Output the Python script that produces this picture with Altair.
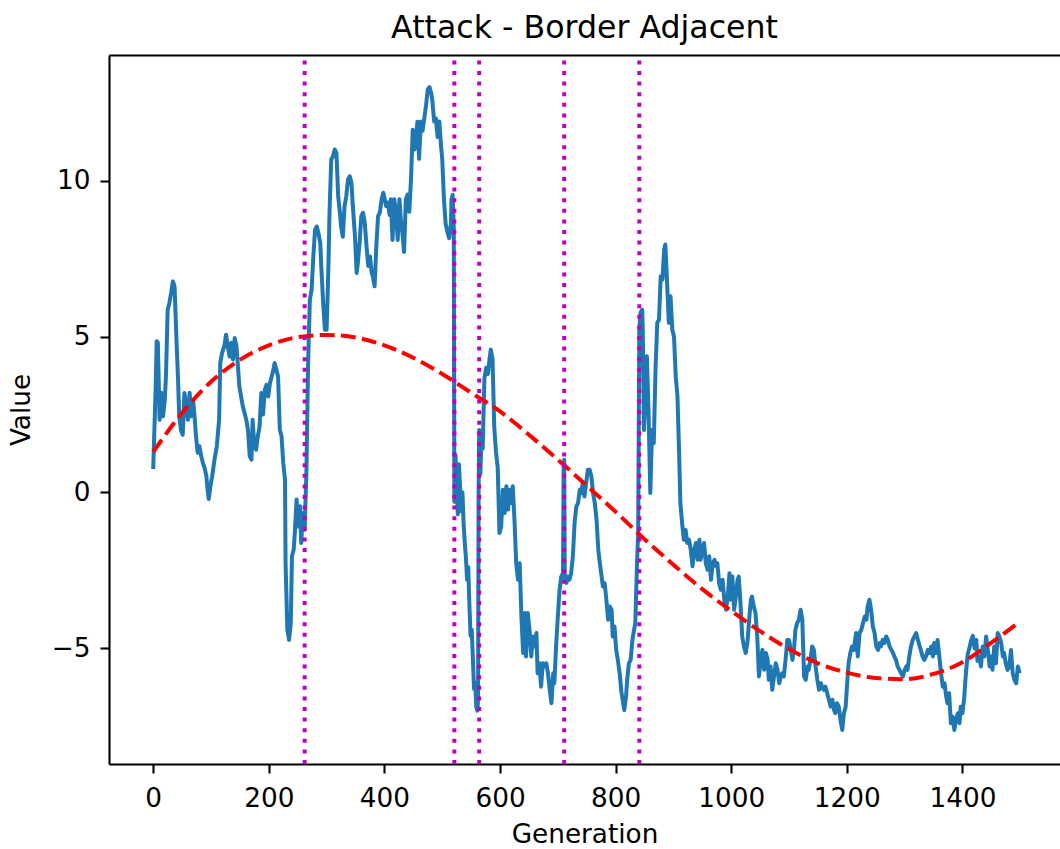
import altair as alt
import pandas as pd

# Blue series: trait value per generation, split at the marked events
phase_a = [(0,0.75),(2,2.0),(4,3.2),(6,4.85),(8,4.8),(11,2.33),(14,3.2),(17,2.44),(20,2.97),(22,3.72),
           (25,5.86),(28,6.08),(31,6.4),(34,6.77),(37,6.6),(40,5.0),(43,3.6),(45,2.44),(48,2.0),(51,1.85),
           (54,3.19),(57,2.8),(60,2.33),(63,3.2),(66,2.44),(69,2.97),(72,2.33),(74,1.8),(77,1.27),(80,1.48),
           (83,1.16),(86,0.95),(89,0.78),(92,0.52),(94,0.09),(96,-0.21),(99,0.2),(102,0.52),(106,1.05),
           (110,1.48),(114,2.33),(116,4.15),(119,4.47),(123,4.69),(126,5.06),(129,4.69),(132,4.36),(135,4.8),
           (138,4.26),(141,4.95),(144,4.69),(147,3.94),(149,3.4),(152,3.08),(155,2.76),(158,2.55),(161,2.33),
           (164,2.0),(167,1.16),(170,1.05),(172,2.33),(175,1.48),(178,1.37),(181,1.8),(184,2.12),(187,3.19),
           (190,2.5),(193,3.29),(196,3.45),(199,3.08),(202,3.51),(205,3.72),(208,3.94),(210,4.15),(213,3.94),
           (216,3.72),(219,2.01),(222,1.8),(225,0.94),(228,0.41),(229,-2.27),(232,-4.4),(235,-4.73),(238,-4.19),
           (240,-2.05),(243,-1.84),(245,-1.3),(248,-0.23),(251,-1.09),(254,-0.44),(256,-1.62),(259,-0.66)]
phase_b = [(262,-1.2),(265,0.62),(268,4.15),(271,6.18),(274,6.5),(277,7.57),(280,8.43),(283,8.53),(286,8.3),
           (289,8.0),(291,7.15),(294,6.08),(297,5.22),(300,5.22),(303,7.15),(305,8.97),(308,10.68),(311,10.78),
           (314,11.0),(317,10.89),(320,9.5),(323,8.97),(325,8.53),(328,8.2),(331,9.18),(334,9.5),(337,10.04),
           (340,10.14),(343,9.93),(345,9.29),(349,8.22),(352,7.04),(354,7.36),(357,8.0),(360,8.86),(363,8.97),
           (366,8.65),(369,7.9),(372,7.26),(375,7.57),(378,7.04),(380,6.93),(383,6.61),(386,7.9),(389,8.86),
           (392,8.97),(395,9.39),(398,9.61),(400,9.45),(403,9.18),(406,9.3),(409,8.9),(411,9.4),(414,8.1),
           (417,9.4),(420,9.0),(423,8.1),(426,9.4),(429,8.6),(431,8.35),(434,7.71),(437,9.4),(440,9.55),
           (443,9.0),(446,10.06),(449,11.63),(452,11.0),(454,11.2),(457,11.89),(460,10.7),(463,11.9),(466,11.6),
           (469,12.0),(472,12.41),(475,12.93),(478,13.0),(481,12.8),(483,12.55),(486,11.9),(489,12.0),(492,11.4),
           (495,11.9),(498,11.1),(500,10.7),(503,9.4),(506,8.6),(509,8.35),(512,8.15),(515,8.6),(516,9.4),
           (518,9.55),(520,8.5)]
phase_c = [(521,-0.3),(522,0.6),(523,1.2),(525,0.2),(527,-0.7),(529,0.9),(531,0.1),(533,-0.6),(535,0.0),
           (537,-1.0),(539,-1.6),(541,-2.1),(543,-2.8),(545,-2.4),(547,-3.6),(549,-4.6),(551,-4.4),(553,-5.3),
           (555,-6.3),(557,-6.1),(559,-6.9),(561,-7.0),(562,-6.6)]
phase_d = [(563,0.2),(564,2.0),(566,0.6),(568,1.8),(570,1.4),(573,3.66),(576,4.0),(579,3.8),(582,4.3),
           (584,4.58),(587,4.3),(590,2.1),(593,1.3),(596,0.8),(599,-1.3),(602,-1.1),(605,0.09),(608,-0.66),
           (611,0.2),(614,-0.55),(616,0.09),(619,-0.34),(622,0.2),(625,-0.88),(628,-2.27),(631,-2.8),(634,-2.27),
           (637,-3.98),(640,-5.15),(643,-3.87),(645,-5.26),(648,-3.87),(651,-4.4),(654,-5.26),(657,-4.62),
           (660,-4.94),(663,-4.51),(665,-5.8),(668,-5.48),(671,-6.23),(674,-5.48),(677,-5.58),(680,-5.48),
           (683,-5.8),(686,-6.33),(689,-6.76),(692,-5.8),(694,-6.12),(697,-4.94),(700,-3.98),(703,-3.12),
           (706,-2.7),(709,-2.59)]
phase_e = [(710,0.8),(711,1.05),(712,-2.7),(715,-2.9),(717,-2.7),(720,-2.8),(723,-2.59),(726,-2.05),(729,-0.98),
           (732,-0.45),(735,-0.34),(738,0.09),(741,-0.02),(743,0.3),(746,-0.13),(749,0.3),(752,0.73),(755,0.73),
           (758,0.52),(761,-0.02),(764,-0.34),(767,-0.88),(770,-1.84),(772,-2.16),(775,-2.59),(778,-3.02),
           (781,-2.91),(784,-3.44),(787,-4.08),(790,-3.66),(793,-3.76),(795,-4.62),(798,-4.3),(801,-5.05),
           (804,-5.4),(807,-5.8),(810,-6.4),(813,-6.75),(815,-6.98),(818,-6.55),(820,-6.0),(823,-5.48),
           (826,-5.37),(829,-4.73),(832,-4.4),(834,-4.19),(837,-2.27),(839,-1.3)]
phase_f = [(840,2.0),(841,5.22),(843,5.76),(846,5.86),(847,5.22),(849,2.0),(851,2.87),(854,4.37),(857,2.55),
           (860,-0.02),(863,2.0),(866,1.58),(869,3.94),(872,5.44),(875,5.54),(878,6.93),(881,6.83),(884,7.79),
           (886,7.95),(889,6.72),(892,5.44),(895,6.29),(898,5.22),(901,5.0),(904,3.72),(907,3.08),(910,1.16),
           (912,-0.34),(915,-0.98),(918,-1.52),(921,-1.2),(924,-1.62),(927,-1.52),(930,-1.84),(933,-2.37),
           (936,-1.84),(939,-1.62),(942,-2.16),(945,-1.52),(947,-2.16),(950,-1.84),(953,-1.62),(956,-2.27),
           (959,-2.48),(962,-2.05),(965,-2.8),(968,-2.27),(971,-2.16),(974,-2.37),(976,-2.27),(979,-2.91),
           (982,-3.12),(985,-2.8),(988,-3.44),(991,-3.76),(994,-3.34),(997,-2.59),(999,-3.44),(1002,-2.7),
           (1005,-3.76),(1008,-3.34),(1011,-2.8),(1013,-2.7),(1016,-3.55),(1019,-4.62),(1022,-4.94),(1025,-5.15),
           (1028,-4.83),(1031,-4.08),(1034,-3.44),(1036,-3.34),(1039,-3.66),(1042,-3.87),(1045,-4.62),(1048,-5.9),
           (1051,-5.37),(1054,-5.05),(1057,-5.69),(1060,-5.15),(1063,-5.37),(1065,-6.01),(1068,-5.58),(1071,-6.33),
           (1074,-5.9),(1077,-5.48),(1080,-5.69),(1083,-6.12),(1086,-5.9),(1088,-5.8),(1091,-5.9),(1094,-5.37),
           (1097,-4.73),(1100,-4.73),(1103,-5.05),(1106,-5.37),(1109,-4.94),(1111,-4.41),(1114,-4.19),(1117,-4.08),
           (1120,-3.76),(1123,-4.08),(1126,-5.9),(1129,-6.01),(1132,-5.58),(1134,-5.69),(1137,-5.37),(1140,-4.94),
           (1143,-5.05),(1146,-5.58),(1149,-6.01),(1152,-6.33),(1155,-6.12),(1157,-6.23),(1160,-6.33),(1163,-6.23),
           (1166,-6.44),(1169,-6.65),(1172,-6.87),(1175,-6.65),(1178,-6.98),(1180,-7.08),(1183,-6.76),(1186,-6.87),
           (1189,-7.29),(1192,-7.62),(1195,-7.08),(1198,-6.87),(1201,-6.01),(1203,-5.48),(1206,-5.15),(1209,-4.94),
           (1212,-5.05),(1216,-4.51),(1219,-5.26),(1222,-4.51),(1225,-4.41),(1228,-4.19),(1231,-3.98),(1234,-4.08),
           (1236,-3.66),(1239,-3.44),(1242,-3.76),(1245,-4.3),(1248,-4.51),(1251,-4.94),(1254,-5.05),(1257,-4.83),
           (1259,-4.94),(1262,-4.73),(1265,-4.83),(1268,-4.62),(1271,-4.73),(1274,-4.94),(1277,-5.05),(1280,-5.15),
           (1282,-5.26),(1285,-5.37),(1288,-5.58),(1291,-5.69),(1294,-5.8),(1297,-5.9),(1300,-5.69),(1303,-5.58),
           (1305,-5.69),(1308,-5.26),(1311,-4.94),(1314,-4.73),(1317,-4.62),(1320,-4.51),(1323,-4.73),(1326,-4.94),
           (1328,-5.05),(1331,-5.26),(1334,-5.37),(1337,-5.26),(1340,-5.05),(1343,-5.15),(1346,-4.94),(1349,-5.26),
           (1351,-4.83),(1354,-5.15),(1357,-4.73),(1360,-5.26),(1363,-5.8),(1366,-6.23),(1369,-6.12),(1372,-6.55),
           (1374,-6.76),(1377,-6.44),(1380,-7.4),(1383,-7.19),(1386,-7.62),(1389,-7.29),(1392,-7.08),(1395,-7.4),
           (1397,-6.87),(1400,-7.08),(1403,-6.6),(1406,-5.8),(1409,-5.2),(1412,-5.0),(1415,-4.75),(1418,-4.6),
           (1421,-5.0),(1424,-4.73),(1426,-5.4),(1429,-5.26),(1432,-5.58),(1435,-4.94),(1438,-5.26),(1441,-4.62),
           (1444,-5.05),(1447,-5.58),(1449,-5.26),(1452,-5.69),(1455,-4.94),(1458,-5.48),(1461,-4.51),(1464,-4.62),
           (1467,-4.83),(1470,-5.26),(1472,-5.15),(1475,-5.48),(1478,-5.69),(1481,-5.58),(1484,-5.05),(1487,-5.8),
           (1490,-6.01),(1493,-6.12),(1496,-5.58),(1499,-5.8)]

# Red dashed trend
trend_gen = [0, 50, 100, 150, 200, 250, 300, 350, 400, 450, 500, 550, 600, 650, 700, 750,
             800, 850, 900, 950, 1000, 1050, 1100, 1150, 1200, 1250, 1300, 1350, 1400, 1450, 1499]
trend_val = [1.3, 2.55, 3.55, 4.25, 4.72, 4.98, 5.05, 4.97, 4.72, 4.32, 3.8, 3.2, 2.6, 1.85, 1.05, 0.22,
             -0.62, -1.5, -2.32, -3.1, -3.8, -4.45, -5.02, -5.48, -5.78, -5.95, -5.99, -5.82, -5.45, -4.82, -4.15]

# Generations marked with dotted vertical lines
event_gen = [262, 521, 564, 711, 841]

x_ticks = [0, 200, 400, 600, 800, 1000, 1200, 1400]
y_ticks = [-5, 0, 5, 10]

series = phase_a + phase_b + phase_c + phase_d + phase_e + phase_f
blue_df = pd.DataFrame(series, columns=["gen", "value"])
trend_df = pd.DataFrame({"gen": trend_gen, "value": trend_val})
event_df = pd.DataFrame({"gen": event_gen})

W, H = 951, 709
FONT = "DejaVu Sans"
xs = alt.Scale(domain=[-76.5, 1568.8], nice=False, zero=False)
ys = alt.Scale(domain=[-8.71, 14.03], nice=False, zero=False)

minus_expr = "replace(datum.label, '-', '\u2212')"

y_axis = alt.Axis(values=y_ticks, format="d", title="Value", labelExpr=minus_expr, labelFlush=False,
                  labelOverlap=False, tickSize=9, labelPadding=10, titlePadding=16)

line = alt.Chart(blue_df).mark_line(color="#1f77b4", strokeWidth=4, strokeJoin="round").encode(
    x=alt.X("gen:Q", scale=xs, axis=alt.Axis(
        values=x_ticks, format="d", title="Generation", labelFlush=False, labelOverlap=False,
        tickSize=9, labelPadding=12, titlePadding=10)),
    y=alt.Y("value:Q", scale=ys, axis=y_axis),
)

trend = alt.Chart(trend_df).mark_line(
    color="#ff0000", strokeWidth=4, strokeDash=[14.8, 6.4], interpolate="monotone"
).encode(
    x=alt.X("gen:Q", scale=xs, axis=alt.Axis(orient="top", labels=False, ticks=False, title="")),
    y=alt.Y("value:Q", scale=ys, axis=y_axis),
)

events = alt.Chart(event_df).mark_rule(color="#bf00bf", strokeWidth=4, strokeDash=[4, 6.6]).encode(
    x=alt.X("gen:Q", scale=xs, axis=None),
    y=alt.value(H),
    y2=alt.value(0),
)

chart = alt.layer(line, trend, events).resolve_axis(x="independent").properties(
    width=W,
    height=H,
    title=alt.TitleParams("Attack - Border Adjacent", font=FONT, fontSize=31.6, fontWeight="normal",
                          color="#000000", anchor="middle", baseline="alphabetic", offset=-17),
    autosize=alt.AutoSizeParams(type="none"),
    padding={"left": 109, "top": 55, "right": 0, "bottom": 85},
    background="#ffffff",
).configure_view(stroke=None).configure_axis(
    grid=False,
    domainColor="#000000",
    domainWidth=2.1,
    tickColor="#000000",
    tickWidth=2.1,
    labelFont=FONT,
    labelFontSize=26.3,
    labelColor="#000000",
    titleFont=FONT,
    titleFontSize=26.3,
    titleFontWeight="normal",
    titleColor="#000000",
)

chart.save("out.html", embed_options={"renderer": "svg", "actions": False})
